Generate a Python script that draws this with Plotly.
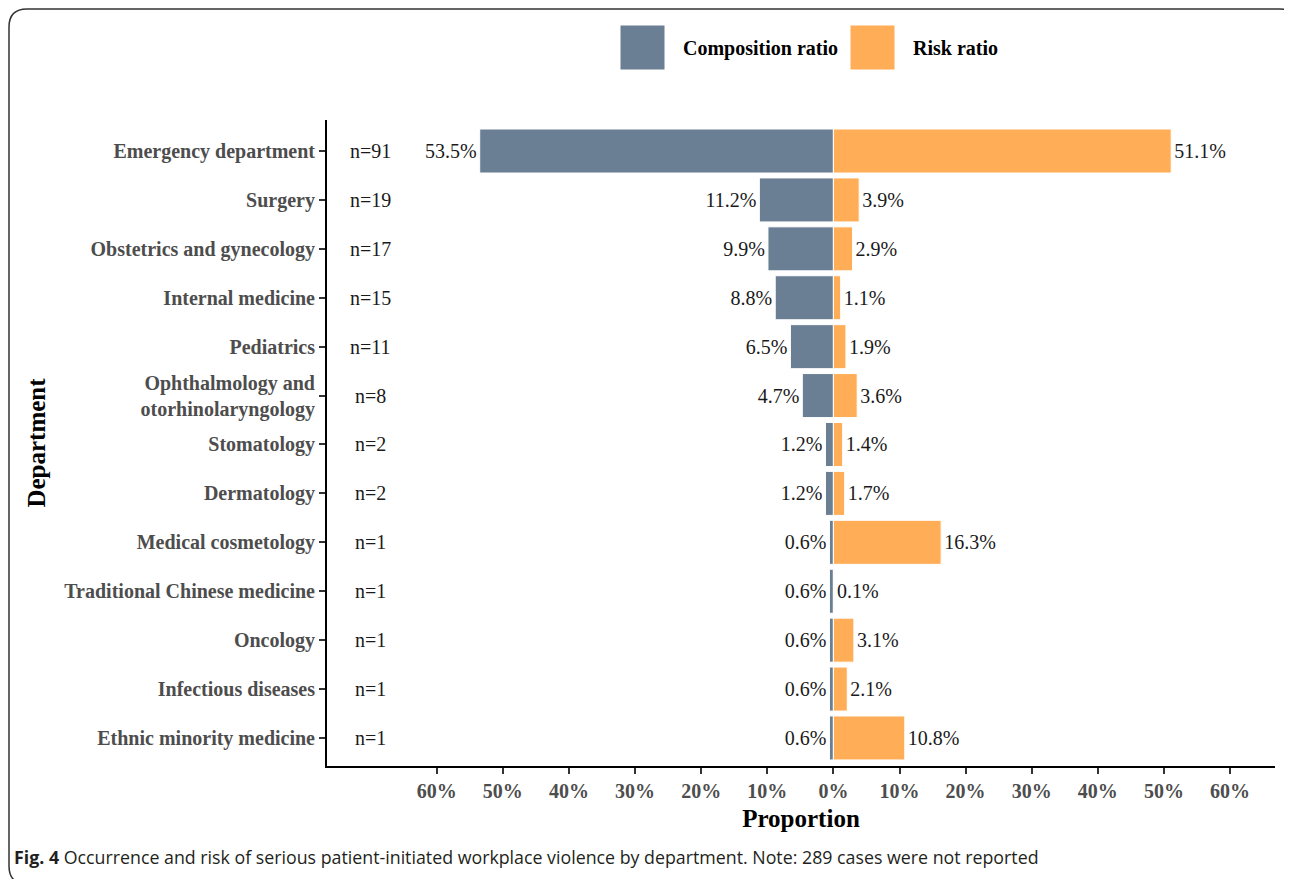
import plotly.graph_objects as go

# ---------------- data ----------------
departments = [
    "Emergency department",
    "Surgery",
    "Obstetrics and gynecology",
    "Internal medicine",
    "Pediatrics",
    "Ophthalmology and<br>otorhinolaryngology",
    "Stomatology",
    "Dermatology",
    "Medical cosmetology",
    "Traditional Chinese medicine",
    "Oncology",
    "Infectious diseases",
    "Ethnic minority medicine",
]
case_counts = [91, 19, 17, 15, 11, 8, 2, 2, 1, 1, 1, 1, 1]
composition_ratio = [53.5, 11.2, 9.9, 8.8, 6.5, 4.7, 1.2, 1.2, 0.6, 0.6, 0.6, 0.6, 0.6]
risk_ratio = [51.1, 3.9, 2.9, 1.1, 1.9, 3.6, 1.4, 1.7, 16.3, 0.1, 3.1, 2.1, 10.8]
tick_values = [-60, -50, -40, -30, -20, -10, 0, 10, 20, 30, 40, 50, 60]
tick_labels = [f"{abs(v)}%" for v in tick_values]
series_names = ["Composition ratio", "Risk ratio"]
caption_label = "Fig. 4"
caption_text = ("Occurrence and risk of serious patient-initiated workplace violence "
                "by department. Note: 289 cases were not reported")

# ---------------- styling ----------------
OFF = 8                       # page body margin
W, H = 1292 - OFF, 879 - OFF
ML = 327 - OFF
MT = 120 - OFF
MR = W - (1275 - OFF)
MB = H - (766 - OFF)
PW, PH = W - ML - MR, H - MT - MB
COL_COMP = "#6A7F94"
COL_RISK = "#FFAE57"
SERIF = "Liberation Serif"


def px2x(px):
    """page pixel x -> paper x"""
    return (px - OFF - ML) / PW


def px2y(py):
    """page pixel y -> paper y"""
    return (H - MB - (py - OFF)) / PH


fig = go.Figure()
fig.add_trace(go.Bar(
    y=departments,
    x=[-v for v in composition_ratio],
    orientation="h",
    name=series_names[0],
    marker=dict(color=COL_COMP, line=dict(color="white", width=1)),
    width=0.9,
    text=[f"{v}%" for v in composition_ratio],
    textposition="outside",
    outsidetextfont=dict(family=SERIF, size=20, color="#1A1A1A"),
    constraintext="none",
    cliponaxis=False,
    showlegend=False,
))
fig.add_trace(go.Bar(
    y=departments,
    x=risk_ratio,
    orientation="h",
    name=series_names[1],
    marker=dict(color=COL_RISK, line=dict(color="white", width=1)),
    width=0.9,
    text=[f"{v}%" for v in risk_ratio],
    textposition="outside",
    outsidetextfont=dict(family=SERIF, size=20, color="#1A1A1A"),
    constraintext="none",
    cliponaxis=False,
    showlegend=False,
))

annotations = []
for dep, n in zip(departments, case_counts):
    annotations.append(dict(
        x=-70, y=dep, xref="x", yref="y", text=f"n={n}", showarrow=False,
        xanchor="center", yanchor="middle",
        font=dict(family=SERIF, size=20, color="#1A1A1A"),
    ))

# legend (manual, large keys)
shapes = []
legend_items = [(620, 665, 681, series_names[0], COL_COMP),
                (850, 895, 911, series_names[1], COL_RISK)]
for x0, x1, tx, name, col in legend_items:
    shapes.append(dict(type="rect", xref="paper", yref="paper",
                       x0=px2x(x0), x1=px2x(x1), y0=px2y(70), y1=px2y(25),
                       fillcolor=col, line=dict(color="white", width=1)))
    annotations.append(dict(x=px2x(tx), y=px2y(48), xref="paper", yref="paper",
                            text=f"<b>{name}</b>", showarrow=False,
                            xanchor="left", yanchor="middle",
                            font=dict(family=SERIF, size=20, color="black")))

# rounded frame (right and bottom edges run past the picture)
bx0, bx1, by0, by1, r = 9, 1298, 9, 884, 18


def P(x, y):
    return f"{px2x(x):.5f},{px2y(y):.5f}"


frame = (f"M {P(bx0 + r, by0)} L {P(bx1 - r, by0)} Q {P(bx1, by0)} {P(bx1, by0 + r)} "
         f"L {P(bx1, by1 - r)} Q {P(bx1, by1)} {P(bx1 - r, by1)} "
         f"L {P(bx0 + r, by1)} Q {P(bx0, by1)} {P(bx0, by1 - r)} "
         f"L {P(bx0, by0 + r)} Q {P(bx0, by0)} {P(bx0 + r, by0)} Z")
shapes.append(dict(type="path", xref="paper", yref="paper", path=frame,
                   line=dict(color="#333333", width=1.5), fillcolor="rgba(0,0,0,0)",
                   layer="below"))

# caption
annotations.append(dict(x=px2x(12), y=px2y(857), xref="paper", yref="paper",
                        text=f"<b>{caption_label}</b> {caption_text}", showarrow=False,
                        xanchor="left", yanchor="middle",
                        font=dict(family="Open Sans", size=17.8, color="#231F20")))

fig.update_layout(
    width=W, height=H,
    margin=dict(l=ML, r=MR, t=MT, b=MB, pad=0),
    paper_bgcolor="white", plot_bgcolor="white",
    barmode="relative",
    bargap=0.1,
    shapes=shapes,
    annotations=annotations,
    xaxis=dict(
        range=[-76.6, 66.8],
        tickvals=tick_values, ticktext=tick_labels,
        showgrid=False, zeroline=False,
        showline=True, linecolor="black", linewidth=2,
        ticks="outside", ticklen=6, tickwidth=2, tickcolor="#333333",
        tickfont=dict(family=SERIF, size=20, color="#4D4D4D", weight="bold"),
        title=dict(text="Proportion", standoff=8,
                   font=dict(family=SERIF, size=25, color="black", weight="bold")),
        automargin=False, fixedrange=True,
    ),
    yaxis=dict(
        categoryorder="array", categoryarray=departments,
        range=[12.573, -0.634],
        showgrid=False, zeroline=False,
        showline=True, linecolor="black", linewidth=2,
        ticks="outside", ticklen=6, tickwidth=2, tickcolor="#333333",
        tickfont=dict(family=SERIF, size=20, color="#4D4D4D", weight="bold"),
        title=dict(text="Department", standoff=12,
                   font=dict(family=SERIF, size=25, color="black", weight="bold")),
        automargin=False, fixedrange=True,
    ),
)

fig.write_html("out.html")
